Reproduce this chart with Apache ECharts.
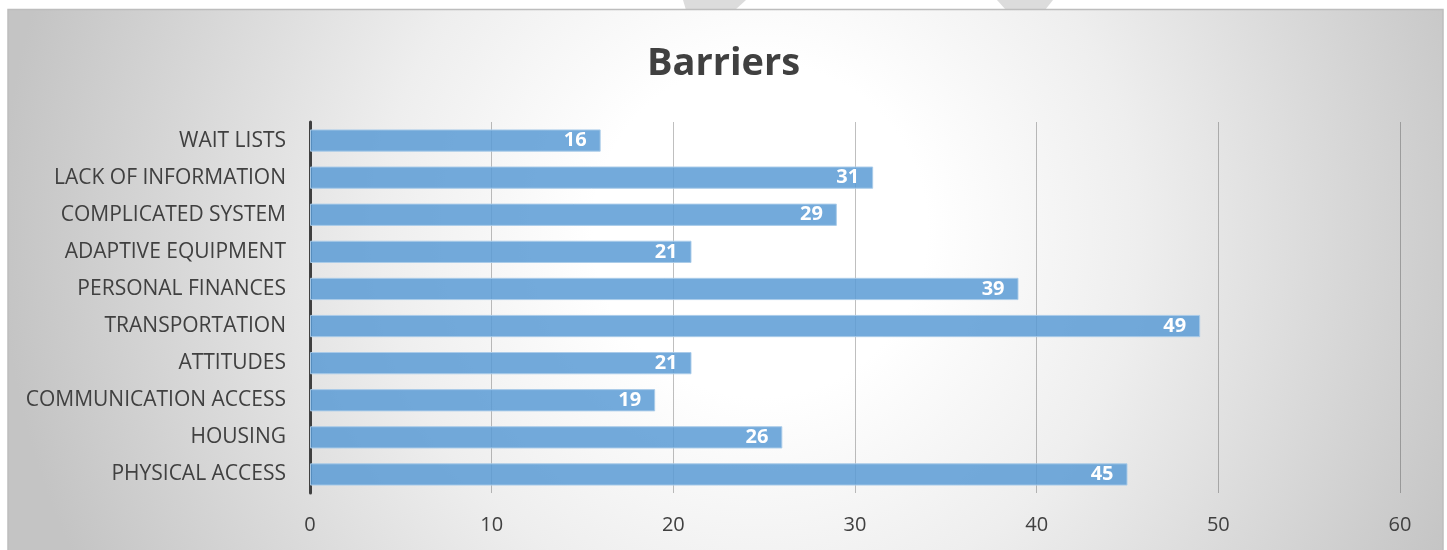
<!DOCTYPE html>
<html><head><meta charset="utf-8">
<script src="https://cdn.jsdelivr.net/npm/echarts@6/dist/echarts.min.js"></script>
<style>html,body{margin:0;padding:0;background:#fff}#c{width:1447px;height:550px}</style>
</head><body><div id="c"></div>
<script>
const categories = ['PHYSICAL ACCESS','HOUSING','COMMUNICATION ACCESS','ATTITUDES','TRANSPORTATION','PERSONAL FINANCES','ADAPTIVE EQUIPMENT','COMPLICATED SYSTEM','LACK OF INFORMATION','WAIT LISTS'];
const values = [45,26,19,21,49,39,21,29,31,16];
const xTicks = [0,10,20,30,40,50,60];

const chart = echarts.init(document.getElementById('c'), null, {renderer:'canvas'});
chart.setOption({
  backgroundColor:'#ffffff',
  animation:false,
  graphic:[
    {type:'polygon', z:-10, shape:{points:[[683,0],[746,0],[735,10],[686,10]]}, style:{fill:'#dcdcdc'}},
    {type:'polygon', z:-10, shape:{points:[[997,0],[1053,0],[1045,10],[1006,10]]}, style:{fill:'#dcdcdc'}},
    {type:'rect', z:-5, shape:{x:8,y:9.5,width:1435,height:545},
     style:{fill:{type:'radial', x:760, y:230, r:760, global:true,
       colorStops:[{offset:0,color:'#ffffff'},{offset:0.22,color:'#ffffff'},{offset:0.5,color:'#eeeeee'},{offset:0.75,color:'#d9d9d9'},{offset:1,color:'#c4c4c4'}]},
       stroke:'#bdbdbd', lineWidth:1.5}}
  ],
  title:{text:'Barriers', left:'center', top:40,
    textStyle:{fontFamily:'Open Sans', fontWeight:'bold', fontSize:38, color:'#404040'}},
  grid:{left:310, right:47, top:122, bottom:57, containLabel:false},
  xAxis:{type:'value', min:0, max:60, interval:10,
    axisLine:{show:false}, axisTick:{show:false},
    splitLine:{show:true, lineStyle:{color:'rgba(0,0,0,0.25)', width:1}},
    axisLabel:{margin:22, fontFamily:'Open Sans', fontSize:20, color:'#404040',
      formatter:function(v){return xTicks.indexOf(v)>=0 ? String(v) : '';}}},
  yAxis:{type:'category', data:categories,
    axisLine:{show:true, lineStyle:{color:'#404040', width:3}},
    axisTick:{show:false},
    axisLabel:{margin:24, fontFamily:'Open Sans', fontSize:21, color:'#404040'}},
  series:[{type:'bar', data:values, barCategoryGap:'40%',
    itemStyle:{color:'rgba(91,155,213,0.85)', borderColor:'rgba(170,203,233,0.95)', borderWidth:1},
    label:{show:true, position:'insideRight', distance:14,
      fontFamily:'Open Sans', fontWeight:'bold', fontSize:20, color:'#ffffff'}}]
});
</script></body></html>
